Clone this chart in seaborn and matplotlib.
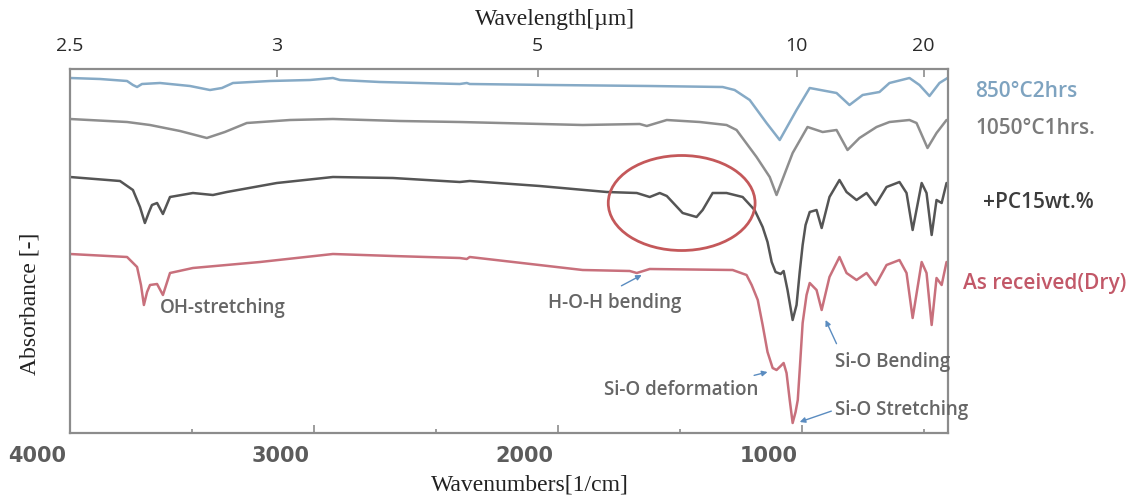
import numpy as np
import pandas as pd
import matplotlib
matplotlib.use("Agg")
import matplotlib.pyplot as plt
import seaborn as sns
from matplotlib.patches import Ellipse
from matplotlib.transforms import ScaledTranslation

# ---------------- data ----------------
wn_850 = [4000, 3877, 3766, 3742, 3725, 3705, 3631, 3508, 3426, 3377, 3332, 3180, 3016,
          2922, 2893, 2730, 2402, 2373, 2361, 2033, 1623, 1324, 1275, 1213, 1144, 1090,
          1021, 967, 857, 804, 750, 681, 640, 558, 517, 476, 435, 402]
ab_850 = [3.55, 3.54, 3.52, 3.48, 3.46, 3.49, 3.50, 3.47, 3.43, 3.45, 3.50, 3.52, 3.53,
          3.55, 3.53, 3.51, 3.49, 3.50, 3.49, 3.48, 3.47, 3.46, 3.43, 3.33, 3.10, 2.93,
          3.23, 3.45, 3.40, 3.28, 3.38, 3.41, 3.50, 3.55, 3.48, 3.37, 3.50, 3.55]

wn_1050 = [4000, 3766, 3672, 3549, 3439, 3365, 3275, 3098, 2922, 2648, 2402, 1898, 1664,
           1635, 1553, 1418, 1308, 1267, 1185, 1131, 1103, 1037, 976, 914, 857, 812, 763,
           693, 640, 558, 529, 484, 447, 406]
ab_1050 = [3.14, 3.11, 3.08, 3.02, 2.95, 3.01, 3.10, 3.13, 3.14, 3.12, 3.11, 3.08, 3.09,
           3.07, 3.13, 3.11, 3.08, 3.03, 2.76, 2.56, 2.38, 2.80, 3.06, 3.01, 3.03, 2.83, 2.95,
           3.06, 3.11, 3.13, 3.10, 2.85, 3.00, 3.13]

wn_pc15 = [4000, 3795, 3742, 3713, 3693, 3676, 3664, 3643, 3619, 3590, 3496, 3414, 3357,
           3152, 2922, 2676, 2402, 2361, 2074, 1799, 1676, 1623, 1582, 1553, 1488, 1431,
           1406, 1365, 1308, 1242, 1193, 1160, 1140, 1123, 1107, 1086, 1074, 1058, 1037,
           1021, 1008, 996, 984, 967, 939, 918, 886, 845, 816, 775, 734, 697, 652, 599,
           570, 545, 508, 488, 467, 447, 426, 406]
ab_pc15 = [2.56, 2.52, 2.43, 2.26, 2.10, 2.21, 2.28, 2.30, 2.19, 2.36, 2.40, 2.38, 2.41,
           2.50, 2.56, 2.55, 2.51, 2.52, 2.47, 2.41, 2.40, 2.36, 2.40, 2.37, 2.20, 2.16,
           2.23, 2.40, 2.40, 2.36, 2.23, 2.06, 1.91, 1.71, 1.61, 1.59, 1.62, 1.43, 1.13,
           1.28, 1.61, 1.88, 2.08, 2.21, 2.23, 2.05, 2.36, 2.53, 2.41, 2.33, 2.40, 2.28,
           2.46, 2.51, 2.40, 2.03, 2.50, 2.40, 1.98, 2.33, 2.30, 2.50]

wn_dry = [4000, 3766, 3725, 3709, 3697, 3684, 3672, 3643, 3619, 3590, 3496, 3221, 2922,
          2676, 2402, 2373, 2361, 1898, 1705, 1676, 1623, 1283, 1226, 1205, 1180, 1160,
          1140, 1119, 1103, 1086, 1074, 1062, 1049, 1037, 1025, 1016, 1008, 996, 980, 967,
          939, 918, 886, 845, 816, 775, 734, 697, 652, 599, 570, 545, 508, 488, 467, 447,
          426, 406]
ab_dry = [1.79, 1.76, 1.66, 1.48, 1.28, 1.41, 1.48, 1.49, 1.38, 1.60, 1.65, 1.71, 1.79,
          1.77, 1.75, 1.74, 1.76, 1.63, 1.62, 1.60, 1.64, 1.63, 1.58, 1.48, 1.33, 1.08,
          0.81, 0.65, 0.63, 0.67, 0.70, 0.60, 0.33, 0.10, 0.21, 0.33, 0.63, 1.10, 1.38, 1.50,
          1.43, 1.23, 1.56, 1.76, 1.60, 1.53, 1.60, 1.48, 1.68, 1.73, 1.60, 1.15, 1.71, 1.60,
          1.08, 1.55, 1.48, 1.71]

series_names = ["850\u00b0C2hrs", "1050\u00b0C1hrs.", "+PC15wt.%", "As received(Dry)"]
bottom_ticks = [4000, 3000, 2000, 1000]
bottom_minor = [3500, 2500, 1500, 500]
top_tick_labels = ["2.5", "3", "5", "10", "20"]
top_tick_wn = [4000, 3152, 2082, 1020, 500]

# ---------------- styling ----------------
sns.set_theme(style="white")
plt.rcParams['font.family'] = ['Open Sans', 'DejaVu Sans']

line_colors = ["#86aac6", "#8e8e8e", "#555555", "#c8707c"]
label_colors = ["#7ea3c0", "#7a7a7a", "#3c3c3c", "#c25868"]
spine_color = "#8c8c8c"

fig = plt.figure(figsize=(11.45, 4.98), dpi=100)
ax = fig.add_axes([70 / 1145, 1 - 433 / 498, (948 - 70) / 1145, (433 - 69) / 498])

all_wn = [wn_850, wn_1050, wn_pc15, wn_dry]
all_ab = [ab_850, ab_1050, ab_pc15, ab_dry]
for name, w, a, c in zip(series_names, all_wn, all_ab, line_colors):
    df = pd.DataFrame({"wn": w, "ab": a})
    sns.lineplot(data=df, x="wn", y="ab", ax=ax, color=c, lw=1.8,
                 estimator=None, sort=True)

ax.set_xlim(4000, 400)
ax.set_ylim(0, 3.64)
ax.set_xlabel("")
ax.set_ylabel("")
ax.set_yticks([])
ax.set_xticks(bottom_ticks)
ax.set_xticks(bottom_minor, minor=True)
ax.set_xticklabels([str(t) for t in bottom_ticks])
ax.tick_params(axis='x', which='major', direction='in', length=6, width=1.2,
               color=spine_color, pad=9, labelsize=15, labelcolor="#5c5c5c",
               bottom=True)
ax.tick_params(axis='x', which='minor', direction='in', length=3, width=1.2,
               color=spine_color, bottom=True)
for sp in ax.spines.values():
    sp.set_color(spine_color)
    sp.set_linewidth(1.6)
    sp.set_visible(True)

offset = ScaledTranslation(-33 / 100, 0, fig.dpi_scale_trans)
for lbl in ax.get_xticklabels():
    lbl.set_fontweight('bold')
    lbl.set_family(['DejaVu Sans'])
    lbl.set_transform(lbl.get_transform() + offset)

# top wavelength axis
ax2 = ax.twiny()
ax2.set_xlim(ax.get_xlim())
ax2.set_xticks(top_tick_wn)
ax2.set_xticklabels(top_tick_labels)
ax2.tick_params(axis='x', direction='in', length=6, width=1.2, color=spine_color,
                pad=10, labelsize=14, labelcolor="#2a2a2a", top=True)
for sp in ax2.spines.values():
    sp.set_visible(False)

# highlight ellipse
ax.add_patch(Ellipse((1492, 2.30), width=602, height=0.95, fill=False,
                     edgecolor="#c4585a", lw=2.0, zorder=5))

# annotations
ann_color = "#666666"
arrow_color = "#5a8cc0"
afs = 13.5
ax.text(3631, 1.25, "OH-stretching", fontsize=afs, color=ann_color,
        ha='left', va='center', fontweight='semibold')
ax.annotate("H-O-H bending", xy=(1656, 1.58), xytext=(1767, 1.30), fontsize=afs,
            color=ann_color, ha='center', va='center', fontweight='semibold',
            arrowprops=dict(arrowstyle='-|>', color=arrow_color, lw=1.0,
                            mutation_scale=8, shrinkA=6, shrinkB=0,
                            relpos=(0.45, 1.0)))
ax.annotate("Si-O deformation", xy=(1140, 0.61), xytext=(1492, 0.43), fontsize=afs,
            color=ann_color, ha='center', va='center', fontweight='semibold',
            arrowprops=dict(arrowstyle='-|>', color=arrow_color, lw=1.0,
                            mutation_scale=8, shrinkA=4, shrinkB=0,
                            relpos=(0.85, 1.0)))
ax.annotate("Si-O Bending", xy=(902, 1.13), xytext=(865, 0.71), fontsize=afs,
            color=ann_color, ha='left', va='center', fontweight='semibold',
            arrowprops=dict(arrowstyle='-|>', color=arrow_color, lw=1.0,
                            mutation_scale=8, shrinkA=4, shrinkB=0,
                            relpos=(0.05, 1.0)))
ax.annotate("Si-O Stretching", xy=(1008, 0.11), xytext=(865, 0.23), fontsize=afs,
            color=ann_color, ha='left', va='center', fontweight='semibold',
            arrowprops=dict(arrowstyle='-|>', color=arrow_color, lw=1.0,
                            mutation_scale=8, shrinkA=0, shrinkB=0,
                            relpos=(0.0, 0.5)))

# series labels on the right
label_pos = [(975, 91), (975, 129), (983, 203), (963, 283)]
for name, (px, py), c in zip(series_names, label_pos, label_colors):
    fig.text(px / 1145, 1 - py / 498, name, color=c, fontsize=15,
             ha='left', va='center', fontweight='semibold')

# axis titles (serif)
serif = ['Liberation Serif', 'DejaVu Serif']
fig.text(555 / 1145, 1 - 19 / 498, "Wavelength[\u00b5m]", family=serif,
         fontsize=17, ha='center', va='center', color="#222222")
fig.text(530 / 1145, 1 - 485 / 498, "Wavenumbers[1/cm]", family=serif,
         fontsize=17, ha='center', va='center', color="#222222")
fig.text(30 / 1145, 1 - 304 / 498, "Absorbance [-]", family=serif,
         fontsize=17, ha='center', va='center', rotation=90, color="#222222")

fig.savefig("out.png", dpi=100)
